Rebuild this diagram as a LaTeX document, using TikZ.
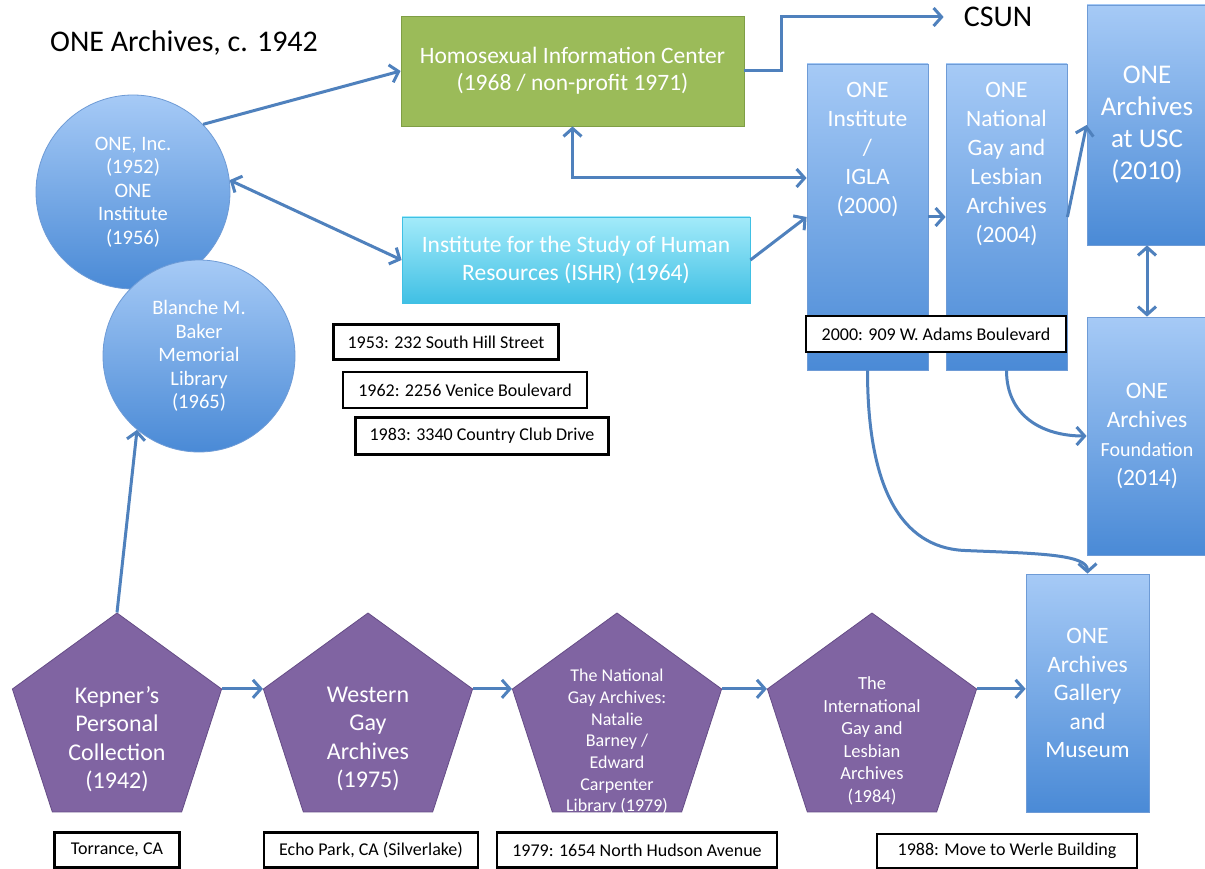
\documentclass[tikz,border=0pt]{standalone}
\usepackage{fontspec}
\setmainfont{Carlito}
\usepackage{tikz}
\usetikzlibrary{shapes.geometric,arrows.meta,calc}
\definecolor{lien}{HTML}{4F81BD}
\definecolor{bleuhaut}{HTML}{A6CAF6}
\definecolor{bleubas}{HTML}{4A8AD6}
\definecolor{bleubord}{HTML}{6E9BD6}
\definecolor{vert}{HTML}{9BBB59}
\definecolor{vertbord}{HTML}{7F9E45}
\definecolor{cyanhaut}{HTML}{A3EBFA}
\definecolor{cyanbas}{HTML}{40C0E4}
\definecolor{violet}{HTML}{8064A2}
\definecolor{violetbord}{HTML}{654C86}
\newcommand{\fs}[2]{\fontsize{#1}{#2}\selectfont}
\tikzset{
    fleche/.style={draw=lien,line width=3pt,-{Straight Barb[length=8pt,width=18pt]}},
    double fleche/.style={fleche,{Straight Barb[length=8pt,width=18pt]}-{Straight Barb[length=8pt,width=18pt]}},
    titre/.style={inner sep=0pt,font=\fs{30}{34}},
    disque/.style={circle,draw=bleubord,line width=0.8pt,top color=bleuhaut,bottom color=bleubas,
      text=white,align=center,inner sep=0pt,font=\fs{20.5}{23.5}},
    boite/.style={rectangle,draw=bleubord,line width=0.8pt,top color=bleuhaut,bottom color=bleubas,
      text=white,align=center,inner sep=0pt,font=\fs{23.5}{29}},
    boitetxt/.style={text=white,align=center,inner sep=0pt,font=\fs{23.5}{29}},
    pent/.style={regular polygon,regular polygon sides=5,minimum size=220pt,inner sep=0pt,
      fill=violet,draw=violetbord,line width=0.8pt},
    penttxt/.style={text=white,align=center,inner sep=0pt,font=\fs{24}{28.5}},
    adresse/.style={rectangle,draw=black,line width=2.5pt,fill=white,inner sep=0pt,font=\fs{18}{20}},
}
\begin{document}
\begin{tikzpicture}[x=1pt,y=-1pt]
  %unite : 1pt = 1 pixel, y vers le bas
  %ancres du pentagone : corner 1 en haut, corner 2 a gauche, corner 5 a droite
  \useasboundingbox (0,0) rectangle (1205,869);
  \fill[white] (0,0) rectangle (1205,869);

  \node[titre] (titre) at (184,43) {ONE Archives, c. 1942};
  \node[titre] (csun) at (998,17) {CSUN};

  %cercles
  \node[disque,minimum size=194pt] (one) at (133,192) {ONE, Inc.\\(1952)\\ONE\\Institute\\(1956)};
  \node[disque,minimum size=192pt] (bmb) at (199,356) {Blanche M.\\Baker\\Memorial\\Library\\(1965)};

  \node[rectangle,fill=vert,draw=vertbord,line width=0.8pt,minimum width=343pt,minimum height=110pt,
    text=white,align=center,font=\fs{23.5}{27}] (hic) at (572.5,71)
    {Homosexual Information Center\\(1968 / non-profit 1971)};
  \node[rectangle,top color=cyanhaut,bottom color=cyanbas,draw=cyanbas,line width=0.8pt,
    minimum width=348pt,minimum height=86pt,text=white,align=center,font=\fs{23.5}{28}] (ishr) at (576,260)
    {Institute for the Study of Human\\Resources (ISHR) (1964)};

  %colonnes bleues
  \node[boite,minimum width=121pt,minimum height=306pt,
    label={[boitetxt,anchor=north,yshift=-18pt]north:{ONE\\Institute\\/\\IGLA\\(2000)}}] (igla) at (867.5,217) {};
  \node[boite,minimum width=121pt,minimum height=306pt,
    label={[boitetxt,anchor=north,yshift=-18pt]north:{ONE\\National\\Gay and\\Lesbian\\Archives\\(2004)}}] (ngla) at (1006.5,217) {};
  \node[boite,minimum width=120pt,minimum height=240pt,font=\fs{27}{32}] (usc) at (1147,125)
    {ONE\\Archives\\at USC\\(2010)};
  \node[boite,minimum width=120pt,minimum height=238pt,font=\fs{23.5}{29}] (fnd) at (1147,436)
    {ONE\\Archives\\{\fs{20}{29}Foundation}\\(2014)};
  \node[boite,minimum width=123pt,minimum height=238pt,font=\fs{23.5}{28.5}] (gal) at (1087.5,693)
    {ONE\\Archives\\Gallery\\and\\Museum};

  %pentagones
  \node[pent,label={[penttxt,yshift=-16pt]center:{Kepner's\\Personal\\Collection\\(1942)}}] (kep) at (117,723) {};
  \node[pent,label={[penttxt,yshift=-16pt]center:{Western\\Gay\\Archives\\(1975)}}] (wga) at (368,723) {};
  \node[pent,label={[penttxt,font=\fs{18}{21.7},yshift=-19pt]center:{The National\\Gay Archives:\\Natalie\\Barney /\\Edward\\Carpenter\\Library (1979)}}] (nga) at (617,723) {};
  \node[pent,label={[penttxt,font=\fs{18.5}{22.5},yshift=-18pt]center:{The\\International\\Gay and\\Lesbian\\Archives\\(1984)}}] (igl) at (872,723) {};

  %adresses
  \node[adresse,minimum width=225pt,minimum height=35pt] (hill) at (446,342) {1953: 232 South Hill Street};
  \node[adresse,minimum width=244pt,minimum height=36pt] (venice) at (465,390) {1962: 2256 Venice Boulevard};
  \node[adresse,minimum width=253pt,minimum height=37pt] (club) at (482,436) {1983: 3340 Country Club Drive};
  \node[adresse,minimum width=260pt,minimum height=36pt] (adams) at (936,334) {2000: 909 W. Adams Boulevard};
  \node[adresse,minimum width=125pt,minimum height=35pt] (torrance) at (117,850) {Torrance, CA};
  \node[adresse,minimum width=214pt,minimum height=35pt] (echo) at (371,850) {Echo Park, CA (Silverlake)};
  \node[adresse,minimum width=280pt,minimum height=35pt] (hudson) at (637,850) {1979: 1654 North Hudson Avenue};
  \node[adresse,minimum width=260pt,minimum height=34pt] (werle) at (1007,851) {1988: Move to Werle Building};

  %liens
  \draw[fleche] (one.44) -- (hic.west);
  \draw[double fleche] (one.7) -- (ishr.west);
  \draw[fleche] (hic.east) -- ++(37,0) |- ([xshift=-20pt]csun.west);
  \draw[double fleche] (hic.south) |- ([yshift=39pt]igla.west);
  \draw[fleche] (ishr.east) -- (igla.west);
  \draw[fleche] (igla.east) -- (ngla.west);
  \draw[fleche] (ngla.east) -- (usc.west);
  \draw[double fleche] (usc.south) -- (fnd.north);
  \draw[fleche] (ngla.south) .. controls +(0,45) and +(-45,0) .. (fnd.west);
  \draw[fleche] (igla.south) .. controls +(0,120) and +(-60,-4) .. +(95,180)
                .. controls +(70,3) and +(0,-20) .. (gal.north);
  \draw[fleche] (kep.corner 1) -- (bmb.230);
  \draw[fleche] (kep.corner 5) -- (wga.corner 2);
  \draw[fleche] (wga.corner 5) -- (nga.corner 2);
  \draw[fleche] (nga.corner 5) -- (igl.corner 2);
  \draw[fleche] (igl.corner 5) -- (igl.corner 5 -| gal.west);
\end{tikzpicture}
\end{document}
